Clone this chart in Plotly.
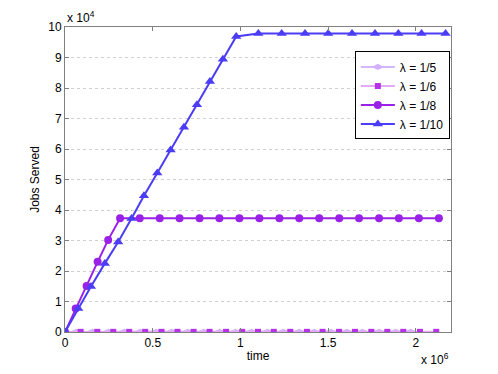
import plotly.graph_objects as go

# Data (time in units of 1e6 for readability, jobs in units of 1e4)
x_l5 = [0, 0.065, 0.156, 0.247, 0.337, 0.428, 0.519, 0.609, 0.700, 0.791, 0.882, 0.972,
        1.063, 1.154, 1.244, 1.335, 1.420, 1.515, 1.606, 1.695, 1.790, 1.884, 1.970]
y_l5 = [0, 0.005, 0.005, 0.005, 0.005, 0.005, 0.005, 0.005, 0.005, 0.005, 0.005, 0.005,
        0.005, 0.005, 0.005, 0.005, 0.005, 0.005, 0.005, 0.005, 0.005, 0.005, 0.005]

x_l6 = [0, 0.089, 0.184, 0.275, 0.366, 0.457, 0.550, 0.641, 0.733, 0.824, 0.918, 1.010,
        1.100, 1.190, 1.284, 1.379, 1.468, 1.562, 1.653, 1.746, 1.837, 1.928, 2.023, 2.116]
y_l6 = [0, 0.005, 0.005, 0.005, 0.005, 0.005, 0.005, 0.005, 0.005, 0.005, 0.005, 0.005,
        0.005, 0.005, 0.005, 0.005, 0.005, 0.005, 0.005, 0.005, 0.005, 0.005, 0.005, 0.005]

x_l8 = [0, 0.061, 0.123, 0.186, 0.246, 0.314, 0.426, 0.540, 0.653, 0.767, 0.880, 0.994,
        1.108, 1.222, 1.335, 1.449, 1.563, 1.676, 1.790, 1.903, 2.017, 2.131]
y_l8 = [0, 0.77, 1.51, 2.30, 3.02, 3.73, 3.73, 3.73, 3.73, 3.73, 3.73, 3.73,
        3.73, 3.73, 3.73, 3.73, 3.73, 3.73, 3.73, 3.73, 3.73, 3.73]

x_l10 = [0, 0.0756, 0.148, 0.227, 0.303, 0.379, 0.450, 0.526, 0.602, 0.678, 0.752, 0.826,
         0.900, 0.976, 1.102, 1.235, 1.368, 1.500, 1.636, 1.767, 1.900, 2.032, 2.169]
y_l10 = [0, 0.77, 1.49, 2.25, 2.95, 3.72, 4.47, 5.21, 5.97, 6.71, 7.45, 8.21,
         8.94, 9.69, 9.79, 9.79, 9.79, 9.79, 9.79, 9.79, 9.79, 9.79, 9.79]

series_names = ["λ = 1/5", "λ = 1/6", "λ = 1/8", "λ = 1/10"]
x_tick_vals = [0, 0.5, 1, 1.5, 2]
x_tick_text = ["0", "0.5", "1", "1.5", "2"]
y_tick_vals = [0, 1, 2, 3, 4, 5, 6, 7, 8, 9, 10]
y_tick_text = ["0", "1", "2", "3", "4", "5", "6", "7", "8", "9", "10"]

X_SCALE = 1e6
Y_SCALE = 1e4
FONT = "Liberation Sans, Arial"

def sc(v, s):
    return [a * s for a in v]

fig = go.Figure()
fig.add_trace(go.Scatter(x=sc(x_l5, X_SCALE), y=sc(y_l5, Y_SCALE), name=series_names[0],
                         mode="lines+markers",
                         line=dict(color="#D6B6FF", width=2),
                         marker=dict(symbol="diamond-wide", size=9, color="#D2B0FF")))
fig.add_trace(go.Scatter(x=sc(x_l6, X_SCALE), y=sc(y_l6, Y_SCALE), name=series_names[1],
                         mode="lines+markers",
                         line=dict(color="#E2A9F5", width=2),
                         marker=dict(symbol="square", size=6, color="#B532E8")))
fig.add_trace(go.Scatter(x=sc(x_l8, X_SCALE), y=sc(y_l8, Y_SCALE), name=series_names[2],
                         mode="lines+markers",
                         line=dict(color="#9A22E8", width=2),
                         marker=dict(symbol="circle", size=8, color="#9A22E8")))
fig.add_trace(go.Scatter(x=sc(x_l10, X_SCALE), y=sc(y_l10, Y_SCALE), name=series_names[3],
                         mode="lines+markers",
                         line=dict(color="#4B3CF5", width=2),
                         marker=dict(symbol="triangle-up", size=9, color="#4B3CF5")))

axis_common = dict(showline=True, linecolor="#808080", linewidth=1, mirror="ticks",
                   ticks="inside", ticklen=4, tickcolor="#808080", zeroline=False,
                   tickfont=dict(family=FONT, size=12, color="black"))

fig.update_xaxes(range=[0, 2.2 * X_SCALE], tickvals=sc(x_tick_vals, X_SCALE), ticktext=x_tick_text,
                 showgrid=False, title=dict(text="time", standoff=2,
                 font=dict(family=FONT, size=12, color="black")),
                 **axis_common)
fig.update_yaxes(range=[0, 10 * Y_SCALE], tickvals=sc(y_tick_vals, Y_SCALE), ticktext=y_tick_text,
                 showgrid=True, gridcolor="#D0D0D0", griddash="dot", gridwidth=1,
                 title=dict(text="Jobs Served", standoff=6,
                 font=dict(family=FONT, size=12, color="black")),
                 **axis_common)

fig.add_annotation(text="x 10<sup>4</sup>", xref="paper", yref="paper", x=0.0, y=1.0,
                   xanchor="left", yanchor="bottom", showarrow=False,
                   font=dict(family=FONT, size=12, color="black"))
fig.add_annotation(text="x 10<sup>6</sup>", xref="paper", yref="paper", x=1.0, y=-0.055,
                   xanchor="right", yanchor="top", showarrow=False,
                   font=dict(family=FONT, size=12, color="black"))

fig.update_layout(
    width=490, height=366,
    margin=dict(l=57, r=47, t=19, b=42),
    paper_bgcolor="white", plot_bgcolor="white",
    showlegend=True,
    legend=dict(x=0.997, y=0.92, xanchor="right", yanchor="top",
                bgcolor="white", bordercolor="black", borderwidth=1,
                font=dict(family=FONT, size=12, color="black"),
                tracegroupgap=0, itemwidth=34),
)

fig.write_html("out.html")
